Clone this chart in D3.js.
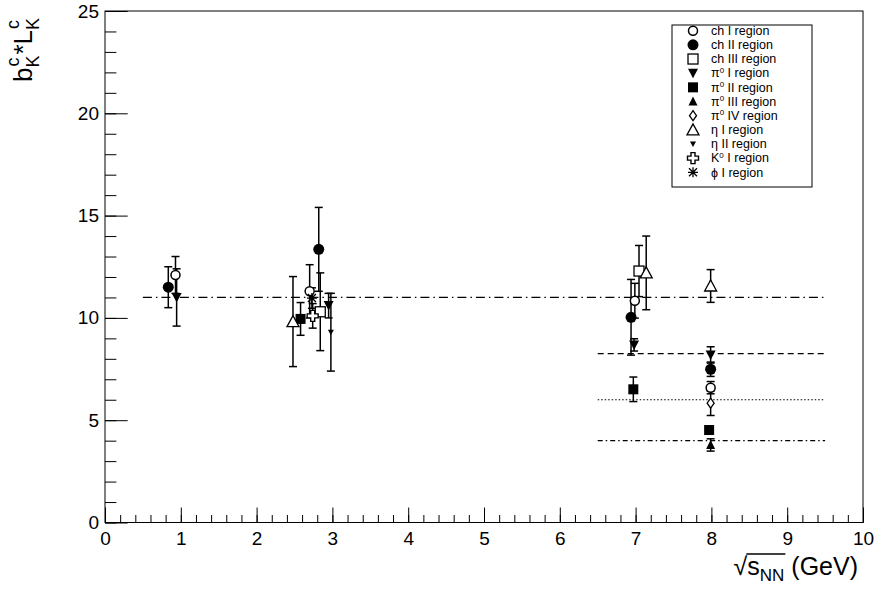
<!doctype html>
<html lang="en">
<head>
<meta charset="UTF-8">
<title>bK*LK vs sqrt(sNN)</title>
<script src="https://cdn.jsdelivr.net/npm/d3@7"></script>
<style>
    body { margin: 0; background: #fff; }
    svg text { font-family: "Liberation Sans", Arial, sans-serif; fill: #000; }
</style>
</head>
<body>
<div id="chartDiv"></div>
<script>
// ---- data ----
const seriesNames = ["ch^ I region", "ch^ II region", "ch^ III region", "π^0 I region", "π^0 II region",
    "π^0 III region", "π^0 IV region", "η^ I region", "η^ II region", "K^0 I region", "ϕ^ I region"]
const seriesMarkers = ["openCircle", "fullCircle", "openSquare", "fullTriDown", "fullSquare",
    "fullTriUp", "openDiamond", "openTriUp", "smallTriDown", "openCross", "star"]

const seriesX = [
    [0.93, 2.70, 6.99, 7.99],
    [0.835, 2.82, 6.94, 7.99],
    [2.84, 7.045],
    [0.945, 2.95, 6.98, 7.99],
    [2.58, 6.97, 7.97],
    [7.99],
    [7.99],
    [2.48, 7.14, 7.99],
    [2.98],
    [2.74],
    [2.73]
]
const seriesY = [
    [12.1, 11.3, 10.84, 6.59],
    [11.5, 13.35, 10.03, 7.49],
    [10.3, 12.29],
    [11.0, 10.6, 8.68, 8.19],
    [9.95, 6.51, 4.52],
    [3.79],
    [5.83],
    [9.82, 12.2, 11.56],
    [9.3],
    [10.1],
    [10.97]
]
const seriesErr = [
    [0.9, 1.3, 0.85, 0.3],
    [1.0, 2.05, 1.85, 0.35],
    [1.9, 1.25],
    [1.4, 0.6, 0.3, 0.4],
    [0.8, 0.6, 0.15],
    [0.3],
    [0.6],
    [2.2, 1.8, 0.8],
    [1.9],
    [0.6],
    [0.5]
]

// horizontal reference lines
const refY = [11, 8.25, 6, 4]
const refFrom = [0.5, 6.5, 6.5, 6.5]
const refTo = [9.5, 9.5, 9.5, 9.5]
const refDash = ["9,4,1.5,4", "6,4", "1.5,2", "5,3,1.5,3"]

const xTicks = [0, 1, 2, 3, 4, 5, 6, 7, 8, 9, 10]
const yTicks = [0, 5, 10, 15, 20, 25]

// ---- layout ----
const W = 874, H = 591
const svg = d3.select('#chartDiv').append('svg').attr('width', W).attr('height', H)

const x = d3.scaleLinear().domain([0, 10]).range([105, 863])
const y = d3.scaleLinear().domain([0, 25]).range([522.5, 11])

// frame
svg.append('rect')
    .attr('x', x(0)).attr('y', y(25))
    .attr('width', x(10) - x(0)).attr('height', y(0) - y(25))
    .attr('fill', 'none').attr('stroke', '#000').attr('stroke-width', 1)

// x axis: minor then major ticks (inside)
svg.append('g').attr('transform', `translate(0,${y(0)})`)
    .call(d3.axisBottom(x).tickValues(d3.range(0, 10.001, 0.2)).tickSize(-7.5).tickFormat(''))
const gx = svg.append('g').attr('transform', `translate(0,${y(0)})`)
    .call(d3.axisBottom(x).tickValues(xTicks).tickSize(-15).tickPadding(8).tickFormat(d3.format('d')))
gx.selectAll('text').attr('font-size', 19).attr('dy', '0.75em')

// y axis
svg.append('g').attr('transform', `translate(${x(0)},0)`)
    .call(d3.axisLeft(y).tickValues(d3.range(0, 25.001, 1)).tickSize(-11.4).tickFormat(''))
const gy = svg.append('g').attr('transform', `translate(${x(0)},0)`)
    .call(d3.axisLeft(y).tickValues(yTicks).tickSize(-22.7).tickPadding(6).tickFormat(d3.format('d')))
gy.selectAll('text').attr('font-size', 19)

svg.selectAll('.domain').remove()
svg.selectAll('.tick line').attr('stroke', '#000').attr('stroke-width', 1)

// reference lines
refY.forEach((v, i) => {
    svg.append('line')
        .attr('x1', x(refFrom[i])).attr('x2', x(refTo[i]))
        .attr('y1', y(v)).attr('y2', y(v))
        .attr('stroke', '#000').attr('stroke-width', 1.2)
        .attr('stroke-dasharray', refDash[i])
})

// markers
function drawMarker(g, type, cx, cy) {
    const m = g.append('g').attr('transform', `translate(${cx},${cy})`)
    const black = '#000'
    if (type == 'openCircle') {
        m.append('circle').attr('r', 4.5).attr('fill', '#fff').attr('stroke', black).attr('stroke-width', 1.5)
    } else if (type == 'fullCircle') {
        m.append('circle').attr('r', 5.5).attr('fill', black)
    } else if (type == 'openSquare') {
        m.append('rect').attr('x', -5).attr('y', -5).attr('width', 10).attr('height', 10)
            .attr('fill', '#fff').attr('stroke', black).attr('stroke-width', 1.3)
    } else if (type == 'fullSquare') {
        m.append('rect').attr('x', -5).attr('y', -5).attr('width', 10).attr('height', 10).attr('fill', black)
    } else if (type == 'fullTriDown') {
        m.append('path').attr('d', 'M-5,-4.5L5,-4.5L0,5Z').attr('fill', black)
    } else if (type == 'fullTriUp') {
        m.append('path').attr('d', 'M-4.5,4L4.5,4L0,-5Z').attr('fill', black)
    } else if (type == 'openDiamond') {
        m.append('path').attr('d', 'M0,-5L3.5,0L0,5L-3.5,0Z')
            .attr('fill', '#fff').attr('stroke', black).attr('stroke-width', 1.3)
    } else if (type == 'openTriUp') {
        m.append('path').attr('d', 'M-6,5L6,5L0,-6Z')
            .attr('fill', '#fff').attr('stroke', black).attr('stroke-width', 1.3)
    } else if (type == 'smallTriDown') {
        m.append('path').attr('d', 'M-3,-2.5L3,-2.5L0,3Z').attr('fill', black)
    } else if (type == 'openCross') {
        m.append('path')
            .attr('d', 'M-2,-5.5L2,-5.5L2,-2L5.5,-2L5.5,2L2,2L2,5.5L-2,5.5L-2,2L-5.5,2L-5.5,-2L-2,-2Z')
            .attr('fill', '#fff').attr('stroke', black).attr('stroke-width', 1.4)
    } else if (type == 'star') {
        m.append('path').attr('d', 'M-5,0L5,0M0,-5L0,5M-4,-4L4,4M-4,4L4,-4')
            .attr('fill', 'none').attr('stroke', black).attr('stroke-width', 1.3)
    }
}

// error bars first, markers on top
const gErr = svg.append('g')
const gMarks = svg.append('g')
seriesNames.forEach((name, s) => {
    seriesX[s].forEach((xv, j) => {
        const yv = seriesY[s][j], e = seriesErr[s][j]
        const px = x(xv)
        gErr.append('line').attr('x1', px).attr('x2', px)
            .attr('y1', y(yv + e)).attr('y2', y(yv - e))
            .attr('stroke', '#000').attr('stroke-width', 1.5)
        ;[yv + e, yv - e].forEach(c => {
            gErr.append('line').attr('x1', px - 4).attr('x2', px + 4)
                .attr('y1', y(c)).attr('y2', y(c))
                .attr('stroke', '#000').attr('stroke-width', 1.5)
        })
        drawMarker(gMarks, seriesMarkers[s], px, y(yv))
    })
})

// legend
const leg = svg.append('g')
leg.append('rect').attr('x', 672).attr('y', 25).attr('width', 140).attr('height', 162)
    .attr('fill', '#fff').attr('stroke', '#000').attr('stroke-width', 1)
seriesNames.forEach((name, i) => {
    const ry = 30.7 + i * 14.16
    drawMarker(leg, seriesMarkers[i], 693, ry)
    const parts = name.split('^')
    const sup = parts[1].charAt(0) == '0' ? '0' : ''
    const rest = sup ? parts[1].slice(1) : parts[1]
    const t = leg.append('text').attr('x', 711).attr('y', ry + 4.3).attr('font-size', 12.5)
    t.append('tspan').text(parts[0])
    if (sup) {
        t.append('tspan').attr('dy', -4.5).attr('font-size', 8).text(sup)
        t.append('tspan').attr('dy', 4.5).text(rest)
    } else {
        t.append('tspan').text(rest)
    }
})

// y title: b_K^c * L_K^c, rotated
const yt = svg.append('g').attr('transform', 'translate(32,82) rotate(-90)')
const big = 26, small = 18
let pos = 0
function yPiece(str, sub, sup) {
    const tb = yt.append('text').attr('x', pos).attr('y', 0).attr('font-size', big).text(str)
    pos += tb.node().getComputedTextLength()
    if (sub) {
        const ts = yt.append('text').attr('x', pos).attr('y', 7).attr('font-size', small).text(sub)
        yt.append('text').attr('x', pos + 1).attr('y', -13).attr('font-size', small).text(sup)
        pos += ts.node().getComputedTextLength() + 1
    }
}
yPiece('b', 'K', 'c')
yPiece('*')
yPiece('L', 'K', 'c')

// x title: sqrt(s_NN) (GeV)
const xt = svg.append('text').attr('x', 858).attr('y', 575).attr('font-size', 25).attr('text-anchor', 'end')
xt.append('tspan').text('√')
xt.append('tspan').text('s')
xt.append('tspan').attr('font-size', 17).attr('dy', 6).text('NN')
xt.append('tspan').attr('dy', -6).text(' (GeV)')
const n = xt.node()
const e1 = n.getExtentOfChar(1), e3 = n.getExtentOfChar(3)
svg.append('line')
    .attr('x1', e1.x - 1).attr('x2', e3.x + e3.width + 1)
    .attr('y1', 554).attr('y2', 554)
    .attr('stroke', '#000').attr('stroke-width', 1.3)
</script>
</body>
</html>
